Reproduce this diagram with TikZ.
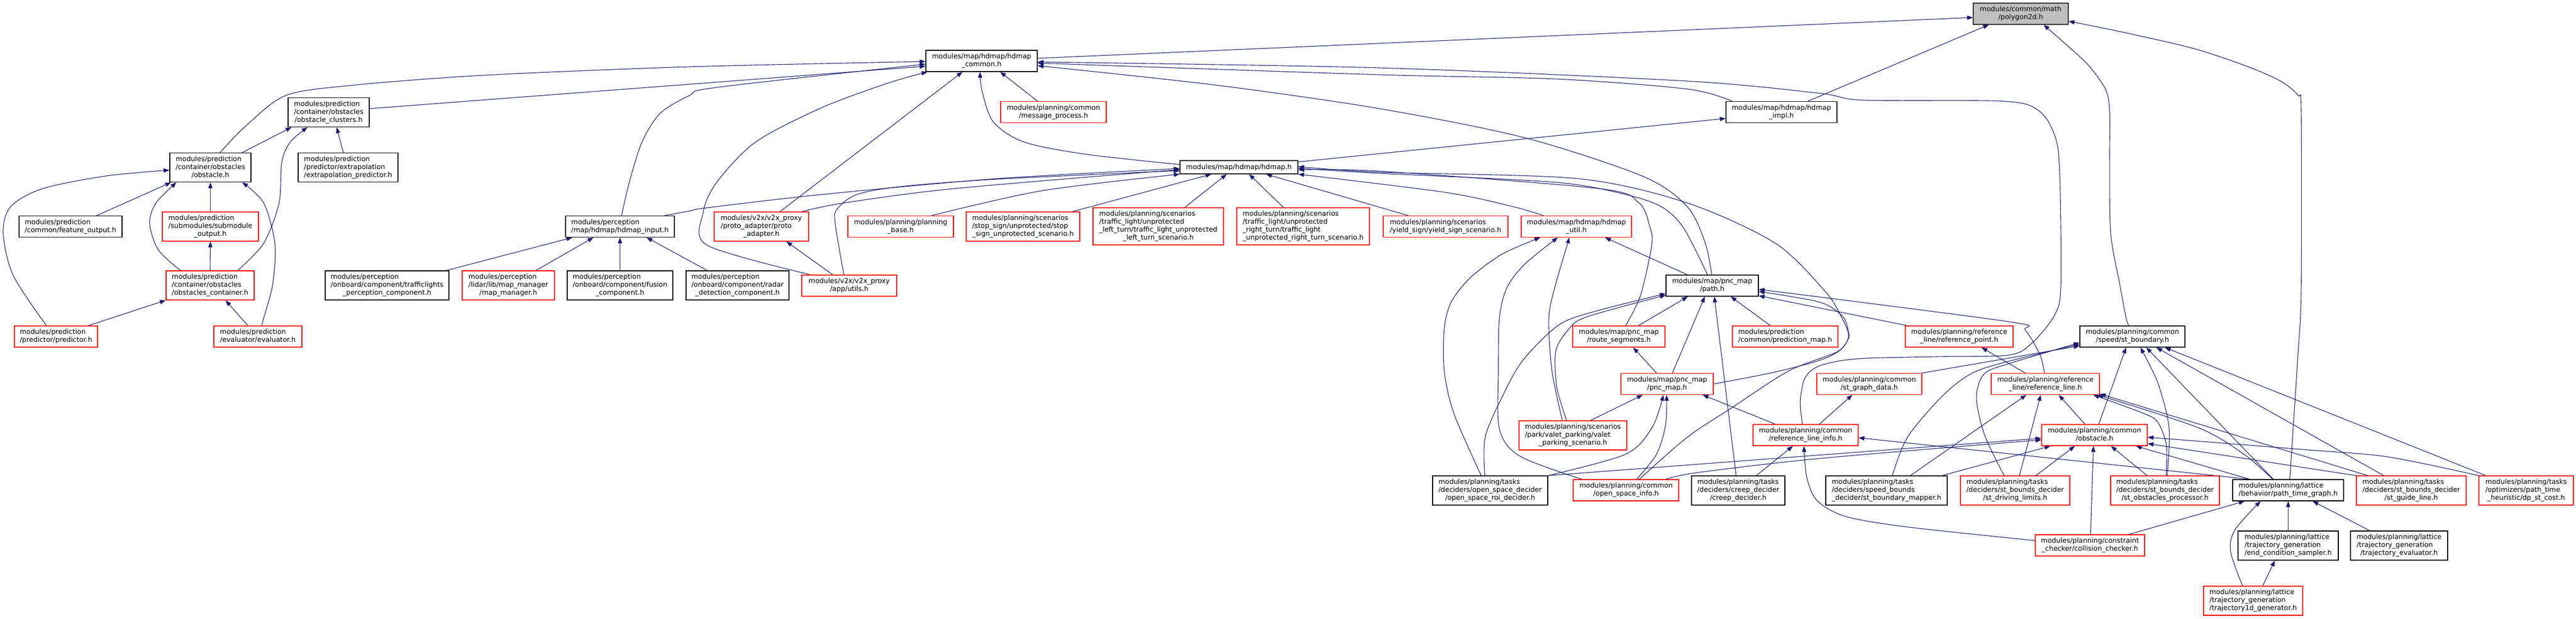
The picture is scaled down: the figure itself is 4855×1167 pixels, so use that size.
\documentclass[tikz,border=0pt]{standalone}
\usepackage{fontspec}
\newfontfamily\dejavu{DejaVu Sans}
\usetikzlibrary{arrows.meta}
\pgfdeclarelayer{bg}
\pgfsetlayers{bg,main}
\definecolor{mblue}{HTML}{191970}
\definecolor{gfill}{HTML}{BFBFBF}
\newcommand\nodefont{\dejavu\fontsize{12.9}{15}\selectfont}
\newcommand\Lbl[1]{\begin{tabular}{@{}l@{}}#1\end{tabular}}
\newcommand\Ctr[1]{\multicolumn{1}{@{}c@{}}{#1}}
\tikzset{
 nbase/.style={rectangle, inner sep=0pt, line width=1.3pt, fill=white, font=\nodefont},
 nb/.style={nbase, draw=black},
 nr/.style={nbase, draw=red},
 ng/.style={nbase, draw=black!80, fill=gfill},
 dep/.style={draw=mblue, line width=1.1pt, -{Triangle[length=11pt,width=8pt]}},
}
\begin{document}
\begin{tikzpicture}[x=1pt,y=-1pt]
\useasboundingbox (0,0) rectangle (4855,1167);
% ---------------- nodes ----------------
\node[ng, minimum width=179pt, minimum height=40pt] (poly) at (3808.5,26) {\Lbl{modules/common/math\\\Ctr{/polygon2d.h}}};
\node[nb, minimum width=210pt, minimum height=40pt] (hcommon) at (1850,115) {\Lbl{modules/map/hdmap/hdmap\\\Ctr{\_common.h}}};
\node[nb, minimum width=209pt, minimum height=40pt] (himpl) at (3357.5,211.5) {\Lbl{modules/map/hdmap/hdmap\\\Ctr{\_impl.h}}};
\node[nb, minimum width=153pt, minimum height=55pt] (oclusters) at (619.5,212) {\Lbl{modules/prediction\\/container/obstacles\\\Ctr{/obstacle\_clusters.h}}};
\node[nr, minimum width=199pt, minimum height=40pt] (msgproc) at (1985.5,211.5) {\Lbl{modules/planning/common\\\Ctr{/message\_process.h}}};
\node[nb, minimum width=222pt, minimum height=25pt] (hdmap) at (2335,315.5) {modules/map/hdmap/hdmap.h};
\node[nb, minimum width=153pt, minimum height=55pt] (obstpred) at (396.5,316) {\Lbl{modules/prediction\\/container/obstacles\\\Ctr{/obstacle.h}}};
\node[nb, minimum width=188pt, minimum height=55pt] (extrap) at (656,316) {\Lbl{modules/prediction\\/predictor/extrapolation\\\Ctr{/extrapolation\_predictor.h}}};
\node[nb, minimum width=194pt, minimum height=40pt] (featout) at (133,427.5) {\Lbl{modules/prediction\\\Ctr{/common/feature\_output.h}}};
\node[nr, minimum width=181pt, minimum height=55pt] (submod) at (396.5,427.5) {\Lbl{modules/prediction\\/submodules/submodule\\\Ctr{\_output.h}}};
\node[nb, minimum width=205pt, minimum height=40pt] (hinput) at (1168.5,427.5) {\Lbl{modules/perception\\\Ctr{/map/hdmap/hdmap\_input.h}}};
\node[nr, minimum width=178pt, minimum height=55pt] (proto) at (1435,427.5) {\Lbl{modules/v2x/v2x\_proxy\\/proto\_adapter/proto\\\Ctr{\_adapter.h}}};
\node[nr, minimum width=199pt, minimum height=40pt] (pbase) at (1697.5,427.5) {\Lbl{modules/planning/planning\\\Ctr{\_base.h}}};
\node[nr, minimum width=214pt, minimum height=55pt] (stop) at (1928,427.5) {\Lbl{modules/planning/scenarios\\/stop\_sign/unprotected/stop\\\Ctr{\_sign\_unprotected\_scenario.h}}};
\node[nr, minimum width=246pt, minimum height=70pt] (left) at (2183,427) {\Lbl{modules/planning/scenarios\\/traffic\_light/unprotected\\\_left\_turn/traffic\_light\_unprotected\\\Ctr{\_left\_turn\_scenario.h}}};
\node[nr, minimum width=250pt, minimum height=70pt] (right) at (2456,427) {\Lbl{modules/planning/scenarios\\/traffic\_light/unprotected\\\_right\_turn/traffic\_light\\\Ctr{\_unprotected\_right\_turn\_scenario.h}}};
\node[nr, minimum width=235pt, minimum height=40pt] (yield) at (2724.5,427.5) {\Lbl{modules/planning/scenarios\\\Ctr{/yield\_sign/yield\_sign\_scenario.h}}};
\node[nr, minimum width=208pt, minimum height=40pt] (hutil) at (2971,427.5) {\Lbl{modules/map/hdmap/hdmap\\\Ctr{\_util.h}}};
\node[nb, minimum width=198pt, minimum height=40pt] (stb) at (4019,635) {\Lbl{modules/planning/common\\\Ctr{/speed/st\_boundary.h}}};
\node[nr, minimum width=166pt, minimum height=55pt] (ocont) at (396,538.5) {\Lbl{modules/prediction\\/container/obstacles\\\Ctr{/obstacles\_container.h}}};
\node[nb, minimum width=233pt, minimum height=55pt] (tl) at (729.5,538.5) {\Lbl{modules/perception\\/onboard/component/trafficlights\\\Ctr{\_perception\_component.h}}};
\node[nr, minimum width=174pt, minimum height=55pt] (mm) at (958,538.5) {\Lbl{modules/perception\\/lidar/lib/map\_manager\\\Ctr{/map\_manager.h}}};
\node[nb, minimum width=199pt, minimum height=55pt] (fusion) at (1168.5,538.5) {\Lbl{modules/perception\\/onboard/component/fusion\\\Ctr{\_component.h}}};
\node[nb, minimum width=194pt, minimum height=55pt] (radar) at (1390,538.5) {\Lbl{modules/perception\\/onboard/component/radar\\\Ctr{\_detection\_component.h}}};
\node[nr, minimum width=179pt, minimum height=40pt] (utils) at (1600.5,539) {\Lbl{modules/v2x/v2x\_proxy\\\Ctr{/app/utils.h}}};
\node[nb, minimum width=174pt, minimum height=40pt] (path) at (3227,539) {\Lbl{modules/map/pnc\_map\\\Ctr{/path.h}}};
\node[nr, minimum width=157pt, minimum height=40pt] (predictor) at (105.5,635) {\Lbl{modules/prediction\\\Ctr{/predictor/predictor.h}}};
\node[nr, minimum width=166pt, minimum height=40pt] (evaluator) at (486,635) {\Lbl{modules/prediction\\\Ctr{/evaluator/evaluator.h}}};
\node[nr, minimum width=174pt, minimum height=40pt] (rseg) at (3051,635) {\Lbl{modules/map/pnc\_map\\\Ctr{/route\_segments.h}}};
\node[nr, minimum width=199pt, minimum height=40pt] (pmap) at (3364.5,635) {\Lbl{modules/prediction\\\Ctr{/common/prediction\_map.h}}};
\node[nr, minimum width=203pt, minimum height=40pt] (rpoint) at (3692.5,635) {\Lbl{modules/planning/reference\\\Ctr{\_line/reference\_point.h}}};
\node[nr, minimum width=174pt, minimum height=40pt] (pnc) at (3142,724.5) {\Lbl{modules/map/pnc\_map\\\Ctr{/pnc\_map.h}}};
\node[nr, minimum width=198pt, minimum height=40pt] (stgd) at (3523,724.5) {\Lbl{modules/planning/common\\\Ctr{/st\_graph\_data.h}}};
\node[nr, minimum width=204pt, minimum height=40pt] (rline) at (3855,724.5) {\Lbl{modules/planning/reference\\\Ctr{\_line/reference\_line.h}}};
\node[nr, minimum width=203pt, minimum height=55pt] (valet) at (2964.5,821.5) {\Lbl{modules/planning/scenarios\\/park/valet\_parking/valet\\\Ctr{\_parking\_scenario.h}}};
\node[nr, minimum width=198pt, minimum height=40pt] (rli) at (3403,821) {\Lbl{modules/planning/common\\\Ctr{/reference\_line\_info.h}}};
\node[nr, minimum width=199pt, minimum height=40pt] (obplan) at (3947.5,821) {\Lbl{modules/planning/common\\\Ctr{/obstacle.h}}};
\node[nb, minimum width=217pt, minimum height=55pt] (osroi) at (2808.5,925.5) {\Lbl{modules/planning/tasks\\/deciders/open\_space\_decider\\\Ctr{/open\_space\_roi\_decider.h}}};
\node[nr, minimum width=199pt, minimum height=40pt] (osinfo) at (3064.5,925) {\Lbl{modules/planning/common\\\Ctr{/open\_space\_info.h}}};
\node[nb, minimum width=176pt, minimum height=55pt] (creep) at (3276,925.5) {\Lbl{modules/planning/tasks\\/deciders/creep\_decider\\\Ctr{/creep\_decider.h}}};
\node[nb, minimum width=229pt, minimum height=55pt] (stbm) at (3555.5,925.5) {\Lbl{modules/planning/tasks\\/deciders/speed\_bounds\\\Ctr{\_decider/st\_boundary\_mapper.h}}};
\node[nr, minimum width=206pt, minimum height=55pt] (stdl) at (3798,925.5) {\Lbl{modules/planning/tasks\\/deciders/st\_bounds\_decider\\\Ctr{/st\_driving\_limits.h}}};
\node[nr, minimum width=205pt, minimum height=55pt] (stproc) at (4080.5,925.5) {\Lbl{modules/planning/tasks\\/deciders/st\_bounds\_decider\\\Ctr{/st\_obstacles\_processor.h}}};
\node[nb, minimum width=209pt, minimum height=40pt] (ptg) at (4312.5,925) {\Lbl{modules/planning/lattice\\\Ctr{/behavior/path\_time\_graph.h}}};
\node[nr, minimum width=207pt, minimum height=55pt] (stgl) at (4544.5,925.5) {\Lbl{modules/planning/tasks\\/deciders/st\_bounds\_decider\\\Ctr{/st\_guide\_line.h}}};
\node[nr, minimum width=178pt, minimum height=55pt] (dpst) at (4761,925.5) {\Lbl{modules/planning/tasks\\/optimizers/path\_time\\\Ctr{\_heuristic/dp\_st\_cost.h}}};
\node[nr, minimum width=206pt, minimum height=40pt] (cc) at (3939,1029) {\Lbl{modules/planning/constraint\\\Ctr{\_checker/collision\_checker.h}}};
\node[nb, minimum width=189pt, minimum height=55pt] (ecs) at (4312.5,1029.5) {\Lbl{modules/planning/lattice\\/trajectory\_generation\\\Ctr{/end\_condition\_sampler.h}}};
\node[nb, minimum width=183pt, minimum height=55pt] (tev) at (4521.5,1029.5) {\Lbl{modules/planning/lattice\\/trajectory\_generation\\\Ctr{/trajectory\_evaluator.h}}};
\node[nr, minimum width=187pt, minimum height=55pt] (t1d) at (4246.5,1133.5) {\Lbl{modules/planning/lattice\\/trajectory\_generation\\\Ctr{/trajectory1d\_generator.h}}};
% ---------------- edges ----------------
\begin{pgfonlayer}{bg}
% into polygon2d
\draw[dep] ([yshift=5pt]hcommon.east) -- ([yshift=-7pt]poly.west);
\draw[dep] ([xshift=50pt]himpl.north) -- ([xshift=-60pt]poly.south);
\draw[dep] plot[smooth] coordinates {([xshift=-7pt]stb.north) (4007,600) (3995,536) (3978,440) (3976,300) (3976,210) (3968,168) (3935,122) (3894,84) ([xshift=43pt]poly.south)};
\draw[dep] plot[smooth] coordinates {([xshift=3pt]ptg.north) (4331,668) (4337,550) (4337,210) (4331,180) (4298,153) (4237,126) (4136,92) (4002,61) ([yshift=-14pt]poly.east)};
% into hdmap_common
\draw[dep] plot[smooth] coordinates {([xshift=-93pt]himpl.north) (3180,168) (2932,149) (2600,141) ([yshift=-4pt]hcommon.east)};
\draw[dep] plot[smooth] coordinates {([yshift=5pt]hdmap.west) (2046,291) (1930,268) (1872,230) (1851,172) ([xshift=-3pt]hcommon.south)};
\draw[dep] ([xshift=-30pt]msgproc.north) -- ([xshift=35pt]hcommon.south);
\draw[dep] ([xshift=35pt]proto.north) -- ([xshift=-36pt]hcommon.south);
\draw[dep] plot[smooth] coordinates {([xshift=-73pt]utils.north) (1333,463) (1325,402) (1350,345) (1424,268) (1549,203) (1673,157) ([xshift=-102pt]hcommon.south)};
\draw[dep] plot[smooth] coordinates {([xshift=-1pt]path.north) (3214,459) (3180,390) (3097,333) (2874,260) (2600,205) (2295,161) ([yshift=-9pt]hcommon.east)};
\draw[dep] plot[smooth] coordinates {([xshift=-6pt]rli.north) (3393,757) (3402,713) (3430,690) (3500,677) (3650,673) (3786,670) (3830,647) (3872,595) (3884,540) (3882,330) (3874,260) (3844,210) (3777,191) (3512,189) (3429,176) (3180,153) (2600,128) ([yshift=-2pt]hcommon.east)};
\draw[dep] plot[smooth] coordinates {([xshift=18pt]obstpred.north) (464,237) (539,180) (663,161) (912,142) (1300,126) ([yshift=-1pt]hcommon.west)};
\draw[dep] ([yshift=7pt]oclusters.east) -- ([yshift=-10pt]hcommon.west);
\draw[dep] plot[smooth] coordinates {([xshift=3pt]hinput.north) (1186,344) (1210,268) (1244,214) (1300,180) (1350,165) ([yshift=-6pt]hcommon.west)};
% hdmap.h
\draw[dep] ([yshift=10pt]hdmap.east) -- ([yshift=-12pt]himpl.west);
\draw[dep] ([xshift=-31pt]utils.north) -- ([xshift=47pt]proto.south);
\draw[dep] plot[smooth] coordinates {([xshift=-10pt]utils.north) (1574,421) (1578,394) (1615,367) (1698,352) (1880,338) ([yshift=-6.5pt]hdmap.west)};
\draw[dep] plot[smooth] coordinates {([xshift=76pt]proto.north) (1590,383) (1797,356) ([yshift=-4.5pt]hdmap.west)};
\draw[dep] plot[smooth] coordinates {([xshift=84pt]hinput.north) (1300,398) (1333,392) (1549,367) (1880,337) ([yshift=-2.5pt]hdmap.west)};
\draw[dep] plot[smooth] coordinates {([xshift=58pt]pbase.north) (1963,360) (hdmap.south west)};
\draw[dep] ([xshift=93pt]stop.north) -- ([xshift=-52pt]hdmap.south);
\draw[dep] ([xshift=50pt]left.north) -- ([xshift=-23pt]hdmap.south);
\draw[dep] ([xshift=-37pt]right.north) -- ([xshift=19pt]hdmap.south);
\draw[dep] ([xshift=-70pt]yield.north) -- ([xshift=51pt]hdmap.south);
\draw[dep] plot[smooth] coordinates {([xshift=-62pt]hutil.north) (2852,390) (2724,363) (hdmap.south east)};
\draw[dep] plot[smooth] coordinates {([xshift=13pt]rseg.north) (3092,557) (3113,463) (3110,430) (3089,383) (3015,356) (2600,323) ([yshift=-5pt]hdmap.east)};
\draw[dep] plot[smooth] coordinates {([xshift=-9pt]path.north) (3173,430) (3131,390) (3064,367) (2932,344) (2600,327) ([yshift=-2pt]hdmap.east)};
\draw[dep] plot[smooth] coordinates {(pnc.east) (3341,703) (3429,680) (3469,660) (3484,633) (3470,597) (3440,550) (3346,459) (3180,383) (2973,337) (2600,325) ([yshift=1pt]hdmap.east)};
% prediction group
\draw[dep] ([xshift=60pt]obstpred.north) -- ([xshift=-70pt]oclusters.south);
\draw[dep] plot[smooth] coordinates {([xshift=52pt]ocont.north) (497,459) (526,383) (531,306) (547,268) ([xshift=-40pt]oclusters.south)};
\draw[dep] ([xshift=-9pt]extrap.north) -- ([xshift=15pt]oclusters.south);
\draw[dep] ([xshift=49pt]featout.north) -- ([xshift=3pt]obstpred.south west);
\draw[dep] plot[smooth] coordinates {([xshift=-56pt]ocont.north) (298,471) (282,421) (294,383) ([xshift=-64pt]obstpred.south)};
\draw[dep] (submod.north) -- (obstpred.south);
\draw[dep] plot[smooth] coordinates {([xshift=7pt]evaluator.north) (497,600) (514,536) (518,459) (497,383) ([xshift=60pt]obstpred.south)};
\draw[dep] plot[smooth] coordinates {([xshift=-18pt]predictor.north) (25,520) (6,440) (20,390) (80,356) (200,332) ([yshift=-5pt]obstpred.west)};
\draw[dep] (ocont.north) -- (submod.south);
\draw[dep] ([xshift=61pt]predictor.north) -- (ocont.south west);
\draw[dep] ([xshift=-19pt]evaluator.north) -- ([xshift=29pt]ocont.south);
% perception
\draw[dep] ([xshift=112pt]tl.north) -- ([xshift=-90pt]hinput.south);
\draw[dep] ([xshift=52pt]mm.north) -- ([xshift=-50pt]hinput.south);
\draw[dep] (fusion.north) -- (hinput.south);
\draw[dep] ([xshift=-57pt]radar.north) -- ([xshift=50pt]hinput.south);
% hdmap_util
\draw[dep] ([xshift=-47pt]path.north) -- ([xshift=54pt]hutil.south);
\draw[dep] plot[smooth] coordinates {([xshift=-17pt]osroi.north) (2740,780) (2722,700) (2722,620) (2735,570) (2770,525) (2830,480) ([xshift=-68pt]hutil.south)};
\draw[dep] plot[smooth] coordinates {([xshift=-83pt]osinfo.north) (2865,861) (2826,810) (2824,700) (2826,600) (2840,543) (2874,498) ([xshift=-35pt]hutil.south)};
\draw[dep] plot[smooth] coordinates {([xshift=-20pt]valet.north) (2925,700) (2919,600) (2932,536) ([xshift=-13pt]hutil.south)};
% path.h
\draw[dep] plot[smooth] coordinates {([xshift=-10pt]osroi.north) (2799,825) (2832,747) (2870,680) (2938,613) (3008,587) ([yshift=-15pt]path.west)};
\draw[dep] plot[smooth] coordinates {([xshift=-12pt]valet.north) (2934,730) (2932,663) (2955,623) (2990,598) ([yshift=-18pt]path.west)};
\draw[dep] ([xshift=37pt]rseg.north) -- ([xshift=-46pt]path.south);
\draw[dep] ([xshift=10pt]pnc.north) -- ([xshift=-14pt]path.south);
\draw[dep] ([xshift=-4pt]creep.north) -- ([xshift=4pt]path.south);
\draw[dep] ([xshift=-28pt]pmap.north) -- ([xshift=35pt]path.south);
\draw[dep] ([xshift=-98pt]rpoint.north) -- ([yshift=-19pt]path.east);
\draw[dep] plot[smooth] coordinates {([xshift=-2pt]rline.north) (3845,670) (3817,623) (3786,607) ([yshift=-7pt]path.east)};
\draw[dep] plot[smooth] coordinates {([xshift=25pt]osinfo.north) (3180,825) (3263,770) (3371,700) (3462,664) (3483,640) (3484,627) (3473,597) (3429,570) ([yshift=-11pt]path.east)};
% middle planning
\draw[dep] ([xshift=-38pt]rline.north) -- ([xshift=42pt]rpoint.south);
\draw[dep] ([xshift=-20pt]pnc.north) -- ([xshift=27pt]rseg.south);
\draw[dep] ([xshift=33pt]valet.north) -- ([xshift=-46pt]pnc.south);
\draw[dep] plot[smooth] coordinates {(osroi.north east) (3064,857) (3114,806) ([xshift=-7pt]pnc.south)};
\draw[dep] plot[smooth] coordinates {([xshift=20pt]osinfo.north) (3122,857) (3139,802) ([xshift=-1pt]pnc.south)};
\draw[dep] ([xshift=-57pt]rli.north) -- ([xshift=67pt]pnc.south);
\draw[dep] ([xshift=26pt]rli.north) -- ([xshift=-32pt]stgd.south);
\draw[dep] ([xshift=34pt]creep.north) -- ([xshift=-24pt]rli.south);
\draw[dep] plot[smooth] coordinates {([yshift=9pt]cc.west) (3600,995) (3480,975) (3425,945) (3405,900) ([xshift=-3pt]rli.south)};
\draw[dep] ([xshift=-72pt]ptg.north) -- ([yshift=-5pt]rli.east);
% st_boundary
\draw[dep] (stgd.north east) -- ([yshift=3pt]stb.south west);
\draw[dep] plot[smooth] coordinates {([xshift=11pt]stbm.north) (3595,825) (3661,747) (3719,703) (3800,678) ([yshift=6pt]stb.south west)};
\draw[dep] plot[smooth] coordinates {([xshift=-21pt]stdl.north) (3740,820) (3725,750) (3740,705) (3790,685) ([yshift=9pt]stb.south west)};
\draw[dep] ([xshift=8pt]obplan.north) -- ([xshift=-12pt]stb.south);
\draw[dep] plot[smooth] coordinates {([xshift=4pt]stproc.north) (4088,807) (4067,723) ([xshift=15pt]stb.south)};
\draw[dep] ([xshift=-28pt]ptg.north) -- ([xshift=26pt]stb.south);
\draw[dep] ([xshift=-52pt]stgl.north) -- ([xshift=45pt]stb.south);
\draw[dep] ([xshift=-76pt]dpst.north) -- ([xshift=61pt]stb.south);
% reference_line
\draw[dep] ([xshift=-18pt]obplan.north) -- ([xshift=25pt]rline.south);
\draw[dep] ([xshift=45pt]stbm.north) -- ([xshift=-36pt]rline.south);
\draw[dep] ([xshift=8pt]stdl.north) -- ([xshift=-9pt]rline.south);
\draw[dep] plot[smooth] coordinates {([xshift=2pt]stproc.north) (4083,840) (4067,797) (4040,780) ([xshift=90pt]rline.south)};
\draw[dep] plot[smooth] coordinates {([xshift=-29pt]ptg.north) (4229,857) (4143,807) ([xshift=98pt]rline.south)};
\draw[dep] ([xshift=-82pt]stgl.north) -- ([yshift=2pt]rline.south east);
% planning obstacle.h
\draw[dep] (osroi.north east) -- ([yshift=-6pt]obplan.west);
\draw[dep] plot[smooth] coordinates {([xshift=75pt]osinfo.north) (3197,892) (3430,865) ([yshift=-9pt]obplan.west)};
\draw[dep] ([xshift=105pt]stbm.north) -- ([xshift=-83pt]obplan.south);
\draw[dep] ([xshift=39pt]stdl.north) -- ([xshift=-37pt]obplan.south);
\draw[dep] ([xshift=1pt]cc.north) -- ([xshift=-2pt]obplan.south);
\draw[dep] ([xshift=-34pt]stproc.north) -- ([xshift=31pt]obplan.south);
\draw[dep] ([xshift=-72pt]ptg.north) -- ([xshift=78pt]obplan.south);
\draw[dep] (stgl.north west) -- ([yshift=-16pt]obplan.east);
\draw[dep] plot[smooth] coordinates {(dpst.north west) (4500,862) (4338,848) ([yshift=-4pt]obplan.east)};
% lattice
\draw[dep] ([xshift=73pt]cc.north) -- ([xshift=-82pt]ptg.south);
\draw[dep] plot[smooth] coordinates {([xshift=-20pt]t1d.north) (4204,1041) (4212,1000) ([xshift=-52pt]ptg.south)};
\draw[dep] (ecs.north) -- (ptg.south);
\draw[dep] ([xshift=-55pt]tev.north) -- ([xshift=46pt]ptg.south);
\draw[dep] ([xshift=18pt]t1d.north) -- ([xshift=-25pt]ecs.south);
\end{pgfonlayer}
\end{tikzpicture}
\end{document}
